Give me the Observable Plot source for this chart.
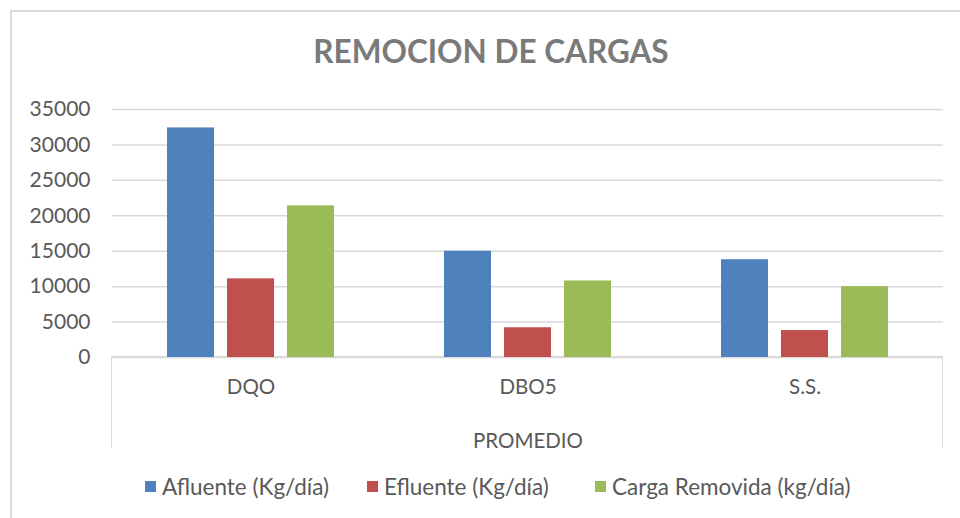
<!DOCTYPE html>
<html>
<head>
<meta charset="utf-8">
<script src="https://cdn.jsdelivr.net/npm/d3@7"></script>
<script src="https://cdn.jsdelivr.net/npm/@observablehq/plot@0.6"></script>
<style>
  html, body { margin: 0; padding: 0; background: #fff; overflow: hidden; }
  #wrap { position: relative; width: 960px; height: 518px; font-family: Lato, "Open Sans", sans-serif; color: #595959; }
  #border { position: absolute; left: 10px; top: 10px; width: 980px; height: 540px; border: 2px solid #d9d9d9; box-sizing: border-box; }
  #title { position: absolute; left: 0; width: 982px; top: 32px; text-align: center; font-size: 31.5px; font-weight: 700; color: #7a7a7a; }
  #catbox { position: absolute; left: 111px; top: 356px; width: 832px; height: 92px; border: 1.5px solid #d9d9d9; border-bottom: none; box-sizing: border-box; }
  #legend { position: absolute; left: 0; top: 473px; width: 960px; height: 30px; font-size: 22.5px; }
  .item { position: absolute; top: 0; display: flex; align-items: center; gap: 6px; white-space: nowrap; }
  .item:nth-child(1) { left: 145px; }
  .item:nth-child(2) { left: 367px; }
  .item:nth-child(3) { left: 595px; }
  .sw { width: 11px; height: 11px; display: inline-block; }
  #chart { position: absolute; left: 0; top: 0; }
</style>
</head>
<body>
<div id="wrap">
  <div id="border"></div>
  <div id="catbox"></div>
  <div id="title"></div>
  <div id="chart"></div>
  <div id="legend"></div>
</div>
<script>
const title = "REMOCION DE CARGAS";
const groups = ["DQO", "DBO5", "S.S."];
const groupLabel = "PROMEDIO";
const series = ["Afluente (Kg/día)", "Efluente (Kg/día)", "Carga Removida (kg/día)"];
const afluente = [32400, 15000, 13800];
const efluente = [11100, 4200, 3800];
const removida = [21400, 10800, 10000];
const yTicks = [0, 5000, 10000, 15000, 20000, 25000, 30000, 35000];
const colors = ["#4f81bd", "#c0504d", "#9bbb59"];

const valuesBySeries = [afluente, efluente, removida];
const data = [];
groups.forEach((g, gi) => {
  series.forEach((s, si) => {
    data.push({group: g, series: s, value: valuesBySeries[si][gi]});
  });
});

document.getElementById("title").textContent = title;

const chart = Plot.plot({
  width: 960,
  height: 518,
  marginLeft: 111,
  marginRight: 17,
  marginTop: 109,
  marginBottom: 161,
  style: {fontFamily: "Lato, 'Open Sans', sans-serif", color: "#595959", background: "transparent"},
  fx: {domain: groups, padding: 0},
  x: {domain: series, paddingInner: 0.213, paddingOuter: 0.877, axis: null},
  y: {domain: [0, 35000]},
  color: {domain: series, range: colors},
  marks: [
    Plot.gridY(yTicks, {stroke: "#d9d9d9", strokeOpacity: 1, strokeWidth: 1.5}),
    Plot.axisY(yTicks, {tickSize: 0, tickPadding: 22, fontSize: 21, tickFormat: d3.format("d"), label: null, fill: "#595959"}),
    Plot.axisFx({anchor: "bottom", tickSize: 0, tickPadding: 22, fontSize: 20.5, fill: "#595959",
      label: groupLabel, labelAnchor: "center", labelArrow: "none", labelOffset: 90}),
    Plot.barY(data, {fx: "group", x: "series", y: "value", fill: "series"})
  ]
});
document.getElementById("chart").appendChild(chart);

const legend = document.getElementById("legend");
series.forEach((s, i) => {
  const it = document.createElement("div");
  it.className = "item";
  const sw = document.createElement("span");
  sw.className = "sw";
  sw.style.background = colors[i];
  const t = document.createElement("span");
  t.textContent = s;
  it.appendChild(sw);
  it.appendChild(t);
  legend.appendChild(it);
});
</script>
</body>
</html>
